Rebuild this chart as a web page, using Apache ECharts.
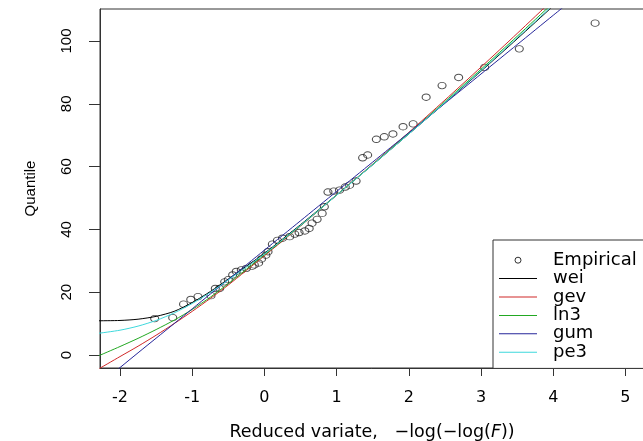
<!DOCTYPE html>
<html>
<head>
<meta charset="utf-8">
<script src="https://cdn.jsdelivr.net/npm/echarts@6/dist/echarts.min.js"></script>
<style>
    html, body { margin: 0; padding: 0; background: #fff; }
    #chart { width: 643px; height: 441px; }
</style>
</head>
<body>
<div id="chart"></div>
<script>
// empirical quantiles
const empX = [-1.52, -1.27, -1.12, -1.02, -0.92, -0.74, -0.68, -0.62, -0.55, -0.50, -0.44, -0.39,
    -0.32, -0.25, -0.17, -0.14, -0.08, -0.04, 0.02, 0.05, 0.11, 0.18, 0.25, 0.35, 0.42, 0.48, 0.56,
    0.62, 0.66, 0.73, 0.80, 0.83, 0.88, 0.96, 1.04, 1.12, 1.18, 1.27, 1.36, 1.43, 1.55, 1.66, 1.78,
    1.92, 2.06, 2.24, 2.46, 2.69, 3.05, 3.53, 4.58];
const empY = [11.6, 11.9, 16.2, 17.7, 18.6, 18.9, 21.2, 21.2, 23.3, 24.0, 25.5, 26.6,
    27.1, 27.6, 28.3, 28.7, 29.3, 30.6, 31.8, 32.9, 35.3, 36.5, 37.2, 37.7, 38.5, 39.0, 39.5,
    40.3, 42.0, 43.2, 45.1, 47.2, 51.9, 52.2, 52.5, 53.5, 54.1, 55.4, 62.8, 63.7, 68.7, 69.5, 70.4,
    72.7, 73.6, 82.1, 85.8, 88.4, 91.6, 97.5, 105.7];

// fitted curves
const curveX = [-2.3, -2, -1.75, -1.5, -1.25, -1, -0.75, -0.5, 0, 0.5, 1, 1.5, 2, 2.5, 3, 3.5, 4, 4.5];
const wei = [10.9, 11.0, 11.4, 12.3, 13.9, 16.7, 20.2, 24.2, 32.4, 41.5, 51.0, 60.6, 70.4, 80.3, 90.4, 100.7, 111.2, 122.0];
const gev = [-4.5, -0.5, 2.8, 6.3, 10.0, 13.9, 18.0, 22.3, 31.6, 41.1, 50.9, 60.8, 70.9, 81.2, 91.7, 102.4, 113.3, 124.5];
const ln3 = [-0.3, 2.7, 5.3, 8.1, 11.1, 14.5, 18.4, 22.7, 31.9, 41.2, 50.9, 60.7, 70.6, 80.7, 91.0, 101.5, 112.2, 123.0];
const gum = [-9.6, -4.0, 0.7, 5.35, 10.0, 14.7, 19.4, 24.05, 33.4, 42.75, 52.1, 61.45, 70.8, 80.15, 89.5, 98.85, 108.2, 117.55];
const pe3 = [6.9, 7.9, 9.2, 11.0, 13.4, 16.4, 19.9, 23.9, 32.2, 41.3, 50.9, 60.6, 70.4, 80.4, 90.6, 101.0, 111.5, 122.2];

const xTicks = [-2, -1, 0, 1, 2, 3, 4, 5];
const yTicks = [0, 20, 40, 60, 80, 100];

const fits = [
    { name: 'wei', data: wei, color: '#000000' },
    { name: 'gev', data: gev, color: '#d02828' },
    { name: 'ln3', data: ln3, color: '#22a822' },
    { name: 'gum', data: gum, color: '#26269a' },
    { name: 'pe3', data: pe3, color: '#3ed8dc' },
];

const sans = 'DejaVu Sans';
const narrow = 'Liberation Sans';
const lineIcon = 'path://M0,0H38V1H0Z';

let myChart = echarts.init(document.getElementById('chart'));
myChart.setOption({
    animation: false,
    grid: {
        left: 100,
        top: 9,
        width: 544,
        height: 359,
        outerBoundsMode: 'none',
        containLabel: false,
        show: true,
        borderColor: '#333',
        borderWidth: 1,
        backgroundColor: 'transparent',
    },
    legend: {
        orient: 'vertical',
        left: 493,
        top: 240,
        itemWidth: 38,
        itemHeight: 6,
        itemGap: 0,
        padding: [11, 14, 7, 6],
        borderColor: '#333',
        borderWidth: 1,
        backgroundColor: '#fff',
        selectedMode: false,
        textStyle: {
            fontFamily: sans,
            fontSize: 18,
            color: '#000',
            lineHeight: 18.4,
            padding: [0, 0, 0, 11],
        },
        data: [
            { name: 'Empirical', icon: 'circle', itemStyle: { color: '#fff', borderColor: '#000', borderWidth: 1 } },
        ].concat(fits.map((f) => ({
            name: f.name,
            icon: lineIcon,
            itemStyle: { color: f.color, borderWidth: 0 },
            lineStyle: { width: 0 },
        }))),
    },
    xAxis: {
        type: 'value',
        min: -2.277,
        max: 5.257,
        name: '{n|Reduced variate,   \u2212log(\u2212log(}{i|F}{n|))}',
        nameLocation: 'middle',
        nameGap: 55,
        nameTextStyle: {
            rich: {
                n: { fontFamily: sans, fontSize: 17.5, color: '#000' },
                i: { fontFamily: sans, fontSize: 17.5, color: '#000', fontStyle: 'italic' },
            },
        },
        axisLine: { show: true, onZero: false, lineStyle: { color: '#333', width: 1 } },
        axisTick: { show: true, length: 8, customValues: xTicks, lineStyle: { color: '#333' } },
        axisLabel: { customValues: xTicks, margin: 22, fontFamily: sans, fontSize: 16, color: '#000' },
        splitLine: { show: false },
    },
    yAxis: {
        type: 'value',
        min: -4.14,
        max: 110.2,
        name: 'Quantile',
        nameLocation: 'middle',
        nameGap: 62,
        nameTextStyle: { fontFamily: narrow, fontSize: 15, color: '#000' },
        axisLine: { show: true, onZero: false, lineStyle: { color: '#333', width: 1 } },
        axisTick: { show: true, length: 11, customValues: yTicks, lineStyle: { color: '#333' } },
        axisLabel: { customValues: yTicks, rotate: 90, margin: 26, fontFamily: narrow, fontSize: 15, color: '#000' },
        splitLine: { show: false },
    },
    series: [
        {
            name: 'Empirical',
            type: 'scatter',
            data: empX.map((x, i) => [x, empY[i]]),
            symbol: 'circle',
            symbolSize: [8, 6.5],
            itemStyle: { color: 'rgba(0,0,0,0)', borderColor: '#222', borderWidth: 1 },
        },
    ].concat(fits.map((f) => ({
        name: f.name,
        type: 'line',
        data: curveX.map((x, i) => [x, f.data[i]]),
        showSymbol: false,
        smooth: 0.25,
        clip: true,
        color: f.color,
        lineStyle: { width: 1, color: f.color },
    }))),
});
</script>
</body>
</html>
